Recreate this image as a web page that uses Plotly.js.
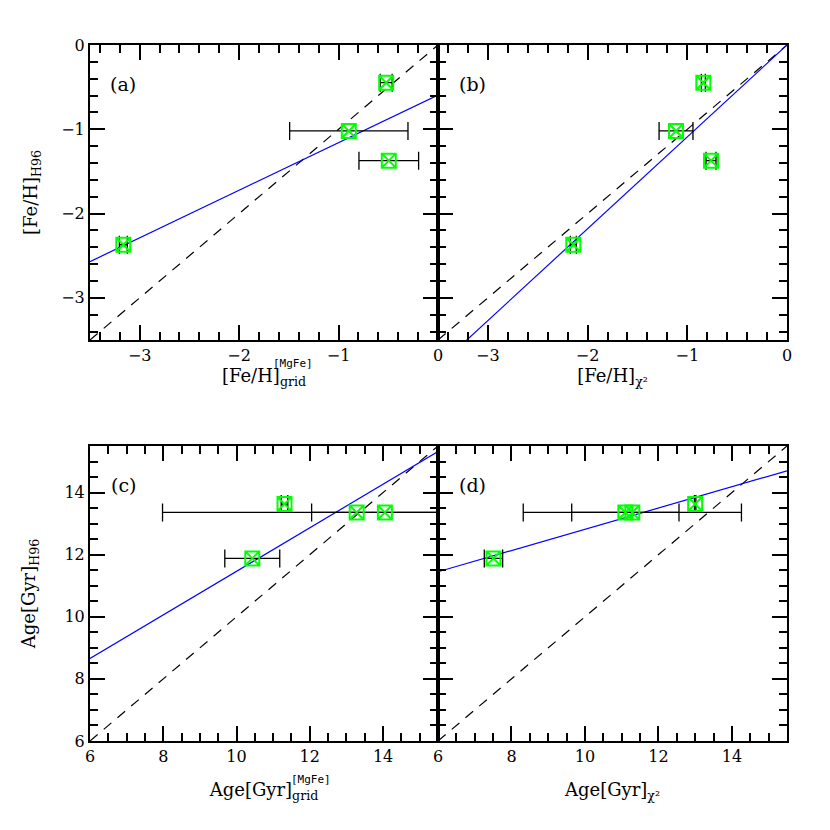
<!DOCTYPE html>
<html>
<head>
<meta charset="utf-8">
<script src="https://cdn.plot.ly/plotly-3.0.1.min.js"></script>
<style>
  html, body { margin: 0; padding: 0; background: #fff; }
  #plot { width: 830px; height: 830px; }
</style>
</head>
<body>
<div id="plot"></div>
<script>
// [Fe/H] from Harris 1996 (shared by panels a and b)
const fehH96 = [-2.37, -1.02, -0.447, -1.372];
// panel (a): [Fe/H] grid [MgFe]
const fehGrid = [-3.165, -0.897, -0.521, -0.495];
const fehGridErr = [0.04, 0.595, 0.06, 0.30];
// panel (b): [Fe/H] chi2
const fehChi = [-2.143, -1.113, -0.839, -0.762];
const fehChiErr = [0.03, 0.17, 0.02, 0.05];

// ages from Harris 1996 (panels c and d)
const ageH96c = [11.88, 13.63, 13.36, 13.36];
const ageGrid = [10.43, 11.31, 13.28, 14.05];
const ageGridErr = [0.75, 0.09, 5.3, 2.0];
const ageH96d = [11.88, 13.36, 13.36, 13.63];
const ageChi = [7.51, 11.10, 11.29, 13.0];
const ageChiErr = [0.25, 1.46, 2.97, 0.02];

// fitted lines, read at the axis ends
const fehEnds = [-3.5, 0];
const fitA = [-2.57, -0.593];
const fitB = [-3.815, 0];
const ageEnds = [6, 15.5];
const fitC = [8.66, 15.32];
const fitD = [11.45, 14.70];

const green = '#00ff00';
const blue = '#0000ff';

function pts(x, y, err, xa, ya) {
  return {
    type: 'scatter', mode: 'markers', x: x, y: y, xaxis: xa, yaxis: ya,
    error_x: { type: 'data', array: err, visible: true, color: '#000', thickness: 1.3, width: 9 },
    marker: { symbol: 'square-x-open', size: 14, color: green, line: { color: green, width: 2 } },
    showlegend: false, hoverinfo: 'x+y'
  };
}
function fit(x, y, xa, ya) {
  return { type: 'scatter', mode: 'lines', x: x, y: y, xaxis: xa, yaxis: ya,
    line: { color: blue, width: 1.2 }, showlegend: false };
}
function diag(x, xa, ya) {
  return { type: 'scatter', mode: 'lines', x: x, y: x, xaxis: xa, yaxis: ya,
    line: { color: '#000', width: 1.2, dash: '10px,8px' }, showlegend: false };
}

const data = [
  diag(fehEnds, 'x', 'y'), fit(fehEnds, fitA, 'x', 'y'), pts(fehGrid, fehH96, fehGridErr, 'x', 'y'),
  diag(fehEnds, 'x2', 'y2'), fit(fehEnds, fitB, 'x2', 'y2'), pts(fehChi, fehH96, fehChiErr, 'x2', 'y2'),
  diag(ageEnds, 'x3', 'y3'), fit(ageEnds, fitC, 'x3', 'y3'), pts(ageGrid, ageH96c, ageGridErr, 'x3', 'y3'),
  diag(ageEnds, 'x4', 'y4'), fit(ageEnds, fitD, 'x4', 'y4'), pts(ageChi, ageH96d, ageChiErr, 'x4', 'y4')
];

const tickFont = { family: 'DejaVu Serif', size: 16, color: '#000' };
const titleFont = { family: 'DejaVu Serif', size: 18, color: '#000' };

function axis(range, dtick, minorDtick, domain, anchor, showLabels, title, standoff) {
  const a = {
    range: range, domain: domain, anchor: anchor, dtick: dtick,
    ticks: 'inside', ticklen: 15, tickwidth: 2, tickcolor: '#000',
    mirror: 'allticks', showline: true, linecolor: '#000', linewidth: 2,
    showgrid: false, zeroline: false, showticklabels: showLabels,
    tickfont: tickFont,
    minor: { dtick: minorDtick, ticks: 'inside', ticklen: 8, tickwidth: 2, tickcolor: '#000' }
  };
  if (title) a.title = { text: title, font: titleFont, standoff: standoff };
  return a;
}

const W = 830, H = 830;
const domLeft = [90 / W, 438 / W], domRight = [438 / W, 787 / W];
const domTop = [(H - 340) / H, (H - 45) / H], domBot = [(H - 741) / H, (H - 446) / H];

const layout = {
  width: W, height: H,
  margin: { l: 0, r: 0, t: 0, b: 0 },
  paper_bgcolor: '#fff', plot_bgcolor: '#fff',
  font: { family: 'DejaVu Serif', color: '#000' },
  xaxis: axis([-3.5, 0], 1, 0.2, domLeft, 'y', true, '[Fe/H]<sub>grid</sub>', 0),
  yaxis: axis([-3.5, 0], 1, 0.2, domTop, 'x', true, '[Fe/H]<sub>H96</sub>', 19),
  xaxis2: axis([-3.5, 0], 1, 0.2, domRight, 'y2', true, '[Fe/H]<sub>χ²</sub>', 0),
  yaxis2: axis([-3.5, 0], 1, 0.2, domTop, 'x2', false, null, 0),
  xaxis3: axis([6, 15.5], 2, 0.5, domLeft, 'y3', true, 'Age[Gyr]<sub>grid</sub>', 18),
  yaxis3: axis([6, 15.5], 2, 0.5, domBot, 'x3', true, 'Age[Gyr]<sub>H96</sub>', 24),
  xaxis4: axis([6, 15.5], 2, 0.5, domRight, 'y4', true, 'Age[Gyr]<sub>χ²</sub>', 18),
  yaxis4: axis([6, 15.5], 2, 0.5, domBot, 'x4', false, null, 0),
  annotations: [
    { text: '(a)', x: 123 / W, y: 1 - 84 / H },
    { text: '(b)', x: 472 / W, y: 1 - 84 / H },
    { text: '(c)', x: 123 / W, y: 1 - 485 / H },
    { text: '(d)', x: 472 / W, y: 1 - 485 / H },
    { text: '[MgFe]', x: 271 / W, y: 1 - 363 / H, xanchor: 'left', font: { family: 'DejaVu Sans Mono', size: 11, color: '#000' } },
    { text: '[MgFe]', x: 289 / W, y: 1 - 779 / H, xanchor: 'left', font: { family: 'DejaVu Sans Mono', size: 11, color: '#000' } }
  ].map(a => Object.assign({ xref: 'paper', yref: 'paper', showarrow: false,
    xanchor: 'center', yanchor: 'middle', font: { family: 'DejaVu Serif', size: 19, color: '#000' } }, a))
};

Plotly.newPlot('plot', data, layout, { displayModeBar: false });
</script>
</body>
</html>
